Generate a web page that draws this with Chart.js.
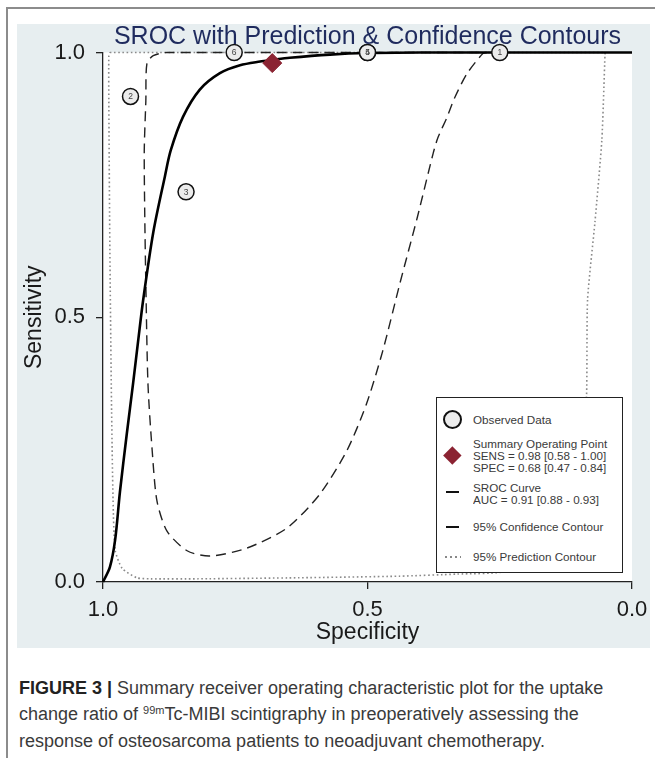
<!DOCTYPE html>
<html>
<head>
<meta charset="utf-8">
<script src="https://cdn.jsdelivr.net/npm/chart.js@4.4.1/dist/chart.umd.min.js"></script>
<style>
  html, body { margin: 0; padding: 0; background: #fff; }
  body { width: 655px; height: 758px; position: relative; overflow: hidden; font-family: Arial, "Liberation Sans", sans-serif; }
  #frame { position: absolute; left: 6px; top: 7px; width: 700px; height: 800px; border-left: 2px solid #8c8c8c; border-top: 2px solid #8c8c8c; }
  #panel { position: absolute; left: 17px; top: 24px; width: 633px; height: 624px; background: #e7eef0; }
  #panel canvas { position: absolute; left: 0; top: 0; }
  #legend { position: absolute; left: 436px; top: 397px; width: 187px; height: 176px; box-sizing: border-box; border: 1px solid #222; background: #fff; }
  #legend .t { position: absolute; left: 36px; height: 13px; line-height: 13px; font-size: 11px; color: #3a3a3a; white-space: nowrap; transform: scaleX(1.06); transform-origin: left center; }
  #legend .circ { position: absolute; left: 6px; top: 12px; width: 15px; height: 15px; border: 2px solid #111; border-radius: 50%; background: #ececec; }
  #legend .dia { position: absolute; left: 9px; top: 51px; width: 12.7px; height: 12.7px; background: #8b2332; transform: rotate(45deg); }
  #legend .ln { position: absolute; left: 9px; width: 13px; background: #111; }
  #legend .dots { position: absolute; left: 8px; width: 16px; height: 2px; background: repeating-linear-gradient(90deg, #888 0 2px, transparent 2px 5px); }
  .cl { position: absolute; left: 19px; height: 24px; line-height: 24px; font-size: 18px; color: #3a3a3a; white-space: nowrap; }
  .cl b { color: #222; }
  .cl sup { font-size: 11px; vertical-align: 6px; line-height: 0; }
</style>
</head>
<body>
<div id="frame"></div>
<div id="panel"><canvas id="c" width="633" height="624"></canvas></div>

<div id="legend">
  <div class="circ"></div>
  <div class="t" style="top:15.5px">Observed Data</div>
  <div class="dia"></div>
  <div class="t" style="top:39.5px">Summary Operating Point</div>
  <div class="t" style="top:51.5px">SENS = 0.98 [0.58 - 1.00]</div>
  <div class="t" style="top:63.5px">SPEC = 0.68 [0.47 - 0.84]</div>
  <div class="ln" style="top:92.5px;height:2.5px"></div>
  <div class="t" style="top:83.5px">SROC Curve</div>
  <div class="t" style="top:95.5px">AUC = 0.91 [0.88 - 0.93]</div>
  <div class="ln" style="top:128px;height:1.5px"></div>
  <div class="t" style="top:122.5px">95% Confidence Contour</div>
  <div class="dots" style="top:158px"></div>
  <div class="t" style="top:152.5px">95% Prediction Contour</div>
</div>

<div class="cl" style="top:676px"><b>FIGURE 3 |</b> Summary receiver operating characteristic plot for the uptake</div>
<div class="cl" style="top:702px">change ratio of <sup>99m</sup>Tc-MIBI scintigraphy in preoperatively assessing the</div>
<div class="cl" style="top:729px">response of osteosarcoma patients to neoadjuvant chemotherapy.</div>

<script>
// studies (observed data)
const studyLabels = ['1', '2', '3', '4', '5', '6'];
const studySpec = [0.25, 0.948, 0.843, 0.50, 0.50, 0.752];
const studySens = [1.00, 0.917, 0.737, 1.00, 1.00, 1.00];

// summary operating point
const summarySpec = [0.68];
const summarySens = [0.98];

// SROC curve
const srocSpec = [1.000, 0.987, 0.977, 0.968, 0.955, 0.943, 0.933, 0.924, 0.905, 0.883, 0.872, 0.849, 0.817, 0.779, 0.741, 0.703, 0.680, 0.647, 0.571, 0.500, 0.400, 0.200, 0.000];
const srocSens = [0.000, 0.028, 0.080, 0.170, 0.280, 0.376, 0.460, 0.533, 0.660, 0.766, 0.815, 0.878, 0.930, 0.961, 0.976, 0.983, 0.986, 0.990, 0.996, 0.999, 1.000, 1.000, 1.000];

// 95% confidence contour
const confSpec = [0.274, 0.282, 0.312, 0.335, 0.350, 0.367, 0.376, 0.406, 0.439, 0.471, 0.502, 0.539, 0.590, 0.652, 0.728, 0.798, 0.841, 0.879, 0.898, 0.907, 0.915, 0.919, 0.921, 0.922, 0.919, 0.917, 0.905, 0.879, 0.274];
const confSens = [1.000, 0.998, 0.960, 0.915, 0.877, 0.839, 0.809, 0.688, 0.563, 0.437, 0.336, 0.248, 0.166, 0.102, 0.064, 0.049, 0.059, 0.096, 0.153, 0.248, 0.374, 0.563, 0.688, 0.815, 0.909, 0.979, 0.994, 1.000, 1.000];

// 95% prediction contour
const predSpec = [0.987, 0.051, 0.051, 0.057, 0.070, 0.084, 0.086, 0.095, 0.120, 0.170, 0.240, 0.330, 0.440, 0.630, 0.820, 0.910, 0.936, 0.964, 0.977, 0.981, 0.984, 0.987, 0.989, 0.989, 0.987];
const predSens = [1.000, 1.000, 0.998, 0.835, 0.680, 0.533, 0.350, 0.250, 0.140, 0.060, 0.020, 0.015, 0.011, 0.008, 0.006, 0.006, 0.008, 0.026, 0.060, 0.155, 0.342, 0.626, 0.909, 0.994, 1.000];

const tickValues = [0, 0.5, 1];
const chartTitle = 'SROC with Prediction & Confidence Contours';

const pts = (xs, ys) => xs.map((x, i) => ({ x: x, y: ys[i] }));
const FONT = 'Arial, "Liberation Sans", sans-serif';

const plotBg = {
    id: 'plotBg',
    beforeDraw(chart) {
        const { ctx, chartArea: a } = chart;
        ctx.save();
        ctx.fillStyle = '#fff';
        ctx.fillRect(a.left, a.top, a.right - a.left, a.bottom - a.top);
        ctx.restore();
    }
};

const topTitle = {
    id: 'topTitle',
    afterDraw(chart) {
        const { ctx, chartArea: a } = chart;
        ctx.save();
        ctx.font = '25px ' + FONT;
        ctx.fillStyle = '#1f2b5e';
        ctx.textAlign = 'center';
        ctx.textBaseline = 'alphabetic';
        ctx.fillText(chartTitle, (a.left + a.right) / 2, 19.5);
        ctx.restore();
    }
};

const studyNums = {
    id: 'studyNums',
    afterDatasetsDraw(chart) {
        const ctx = chart.ctx;
        const meta = chart.getDatasetMeta(0);
        ctx.save();
        ctx.font = '8.5px ' + FONT;
        ctx.fillStyle = '#444';
        ctx.textAlign = 'center';
        ctx.textBaseline = 'middle';
        meta.data.forEach((el, i) => ctx.fillText(studyLabels[i], el.x, el.y + 0.5));
        ctx.restore();
    }
};

const axisCommon = (pad) => ({
    type: 'linear',
    min: 0,
    max: 1,
    afterBuildTicks(s) { s.ticks = tickValues.map(v => ({ value: v })); },
    grid: { drawOnChartArea: false, drawTicks: true, tickLength: 7, color: '#222', lineWidth: 1.3 },
    border: { display: true, color: '#222', width: 1.3 },
    ticks: { callback: v => v.toFixed(1), font: { size: 22, family: FONT }, color: '#1a1a1a', maxRotation: 0, padding: pad }
});

new Chart(document.getElementById('c'), {
    type: 'scatter',
    data: {
        datasets: [
            {
                label: 'Observed Data',
                data: pts(studySpec, studySens),
                pointRadius: 8,
                pointBackgroundColor: '#ececec',
                pointBorderColor: '#111',
                pointBorderWidth: 1.5,
                clip: false
            },
            {
                label: 'Summary Operating Point',
                data: pts(summarySpec, summarySens),
                pointStyle: 'rectRot',
                pointRadius: 9.5,
                pointBackgroundColor: '#8b2332',
                pointBorderColor: '#8b2332',
                clip: false
            },
            {
                label: 'SROC Curve',
                data: pts(srocSpec, srocSens),
                showLine: true,
                pointRadius: 0,
                borderColor: '#000',
                borderWidth: 2.6,
                tension: 0.3,
                clip: false
            },
            {
                label: '95% Confidence Contour',
                data: pts(confSpec, confSens),
                showLine: true,
                pointRadius: 0,
                borderColor: '#222',
                borderWidth: 1.4,
                borderDash: [10, 6],
                tension: 0.25,
                clip: false
            },
            {
                label: '95% Prediction Contour',
                data: pts(predSpec, predSens),
                showLine: true,
                pointRadius: 0,
                borderColor: '#8a8a8a',
                borderWidth: 1.6,
                borderDash: [1.6, 2.6],
                tension: 0.2,
                clip: false
            }
        ]
    },
    options: {
        responsive: false,
        animation: false,
        layout: { padding: { left: 0, top: 28.5, right: 18, bottom: 0 } },
        plugins: { legend: { display: false }, tooltip: { enabled: false } },
        scales: {
            x: Object.assign(axisCommon(8), {
                reverse: true,
                afterFit(s) { s.height = 66; },
                title: { display: true, text: 'Specificity', color: '#1a1a1a', font: { size: 23, family: FONT }, padding: { top: 0, bottom: 2 } }
            }),
            y: Object.assign(axisCommon(11), {
                afterFit(s) { s.width = 86; },
                title: { display: true, text: 'Sensitivity', color: '#1a1a1a', font: { size: 23, family: FONT }, padding: { top: 4, bottom: 0 } }
            })
        }
    },
    plugins: [plotBg, topTitle, studyNums]
});
</script>
</body>
</html>
